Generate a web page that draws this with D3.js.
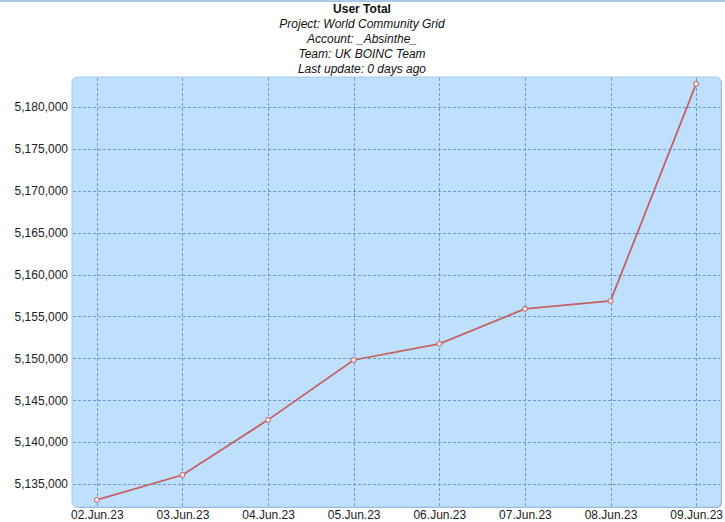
<!DOCTYPE html>
<html><head><meta charset="utf-8">
<script src="https://cdn.jsdelivr.net/npm/d3@7"></script>
<style>
html,body{margin:0;padding:0;background:#fff;}
svg{display:block;}
</style></head>
<body>
<script>
const categories = ["02.Jun.23","03.Jun.23","04.Jun.23","05.Jun.23","06.Jun.23","07.Jun.23","08.Jun.23","09.Jun.23"];
const userTotal = [5133090, 5136070, 5142650, 5149800, 5151720, 5155900, 5156850, 5182750];
const yTicks = [5135000,5140000,5145000,5150000,5155000,5160000,5165000,5170000,5175000,5180000];
const titleLines = ["User Total","Project: World Community Grid","Account: _Absinthe_","Team: UK BOINC Team","Last update: 0 days ago"];

const W = 725, H = 522;
const L = 72, R = 721, T = 77, B = 507;
const svg = d3.select("body").append("svg").attr("width", W).attr("height", H);

svg.append("rect").attr("x",0).attr("y",0).attr("width",W).attr("height",2).attr("fill","#a9c8ea");

const tg = svg.append("g").attr("font-family","Liberation Sans, Arial, sans-serif").attr("font-size",12).attr("text-anchor","middle").attr("fill","#111");
titleLines.forEach((t,i)=>{
  tg.append("text").attr("x", 362).attr("y", 13 + i*15)
    .attr("font-weight", i===0 ? "bold" : "normal")
    .attr("font-style", i===0 ? "normal" : "italic")
    .text(t);
});

const x = d3.scalePoint().domain(categories).range([L, R]).padding(0.29);
const y = d3.scaleLinear().domain([5132250, 5183580]).range([B, T]);

svg.append("rect").attr("x",L+1).attr("y",T+1).attr("width",R-L).attr("height",B-T)
  .attr("rx",5).attr("fill","#8fb5df");
svg.append("rect").attr("x",L).attr("y",T).attr("width",R-L).attr("height",B-T)
  .attr("rx",5).attr("fill","#bfdfff").attr("stroke","#a4c8ee").attr("stroke-width",1);

const grid = svg.append("g").attr("stroke","#6a9ad6").attr("stroke-width",1).attr("stroke-dasharray","3,2");
yTicks.forEach(v=>{
  grid.append("line").attr("x1",L+1).attr("x2",R-1).attr("y1",Math.round(y(v))+0.5).attr("y2",Math.round(y(v))+0.5);
});
categories.forEach(c=>{
  grid.append("line").attr("y1",T+1).attr("y2",B-1).attr("x1",Math.round(x(c))+0.5).attr("x2",Math.round(x(c))+0.5);
});

const fmt = d3.format(",");
const yAxis = d3.axisLeft(y).tickValues(yTicks).tickFormat(fmt).tickSize(0).tickPadding(4);
const ya = svg.append("g").attr("transform",`translate(${L},0)`).call(yAxis);
ya.select(".domain").remove();
ya.selectAll("text").attr("font-family","Liberation Sans, Arial, sans-serif").attr("font-size",12).attr("fill","#222");

const xAxis = d3.axisBottom(x).tickSize(0).tickPadding(3);
const xa = svg.append("g").attr("transform",`translate(0,${B})`).call(xAxis);
xa.select(".domain").remove();
xa.selectAll("text").attr("font-family","Liberation Sans, Arial, sans-serif").attr("font-size",12).attr("fill","#222");

const line = d3.line().x((d,i)=>x(categories[i])).y(d=>y(d));
svg.append("path").datum(userTotal).attr("d",line).attr("fill","none").attr("stroke","#c46262").attr("stroke-width",1.8);
svg.selectAll("circle.pt").data(userTotal).enter().append("circle").attr("class","pt")
  .attr("cx",(d,i)=>x(categories[i])).attr("cy",d=>y(d)).attr("r",2.5)
  .attr("fill","#f6e4e4").attr("stroke","#c46262").attr("stroke-width",1);
</script>
</body></html>
